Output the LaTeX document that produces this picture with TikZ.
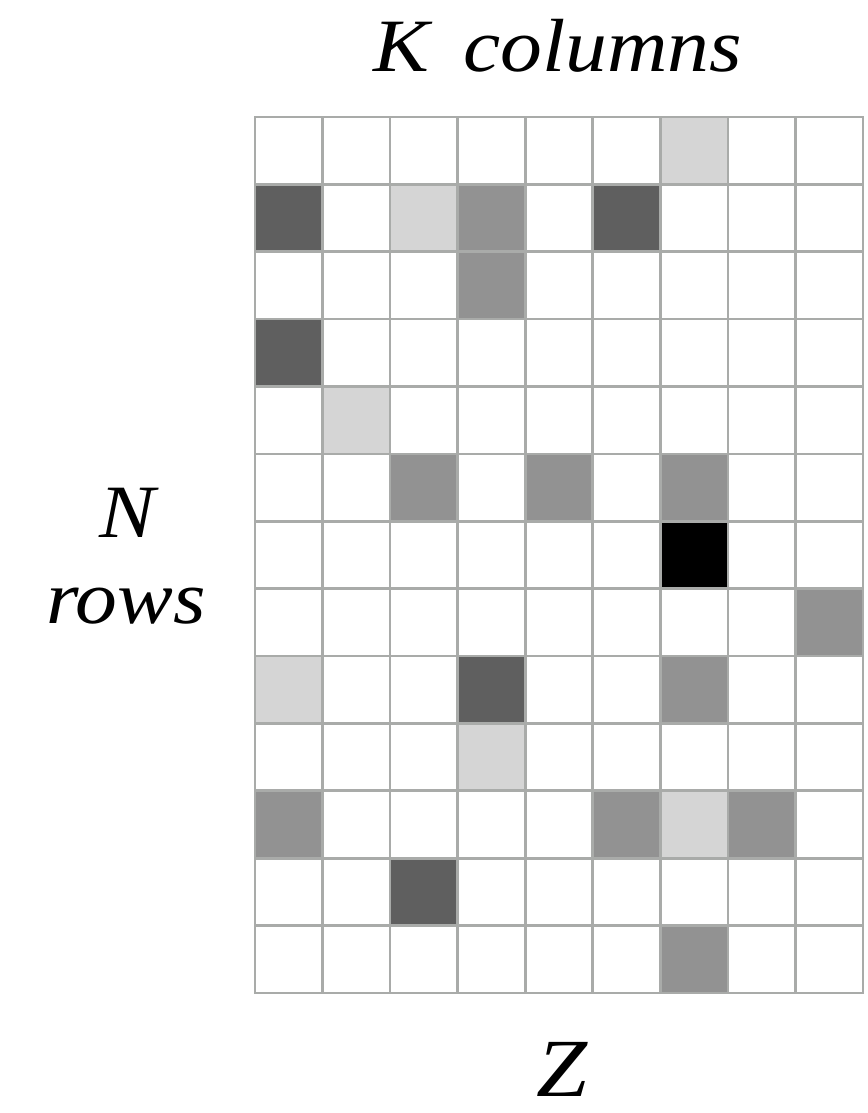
\documentclass[tikz,border=0pt]{standalone}
\usepackage{fontspec}
\setmainfont{Liberation Serif}[FakeStretch=1.11]
\definecolor{gridc}{HTML}{A9ABA9}
\definecolor{lightc}{HTML}{D5D5D5}
\definecolor{medc}{HTML}{929292}
\definecolor{darkc}{HTML}{5F5F5F}
\definecolor{blackc}{HTML}{000000}
\tikzset{
  gridline/.style={draw=gridc, line width=2pt, line cap=rect},
  lbl/.style={font=\fontsize{56.5}{68}\selectfont\itshape, inner sep=0pt, anchor=base},
  zlbl/.style={font=\fontsize{62}{70}\selectfont\itshape, inner sep=0pt, anchor=base}
}
\begin{document}
\begin{tikzpicture}[x=0.75pt,y=-0.75pt]
\useasboundingbox (0,0) rectangle (867,1113);
\def\cw{67.55}
\def\ch{67.38}
\foreach \r/\c/\col in {0/6/lightc,
  1/0/darkc, 1/2/lightc, 1/3/medc, 1/5/darkc,
  2/3/medc,
  3/0/darkc,
  4/1/lightc,
  5/2/medc, 5/4/medc, 5/6/medc,
  6/6/blackc,
  7/8/medc,
  8/0/lightc, 8/3/darkc, 8/6/medc,
  9/3/lightc,
  10/0/medc, 10/5/medc, 10/6/lightc, 10/7/medc,
  11/2/darkc,
  12/6/medc}
  \fill[\col] ({255+\c*\cw},{117+\r*\ch}) rectangle +(\cw,\ch);
\foreach \i in {0,...,9}
  \draw[gridline] ({255+\i*\cw},117) -- ({255+\i*\cw},{117+13*\ch});
\foreach \j in {0,...,13}
  \draw[gridline] (255,{117+\j*\ch}) -- ({255+9*\cw},{117+\j*\ch});
\node[lbl] (kcol) at (558,72) {K\hspace{0.45em}columns};
\node[lbl] (nlbl) at (127,537) {N};
\node[lbl] (rows) at (126,623) {rows};
\node[zlbl] (zlbl) at (562,1096) {Z};
\end{tikzpicture}
\end{document}
